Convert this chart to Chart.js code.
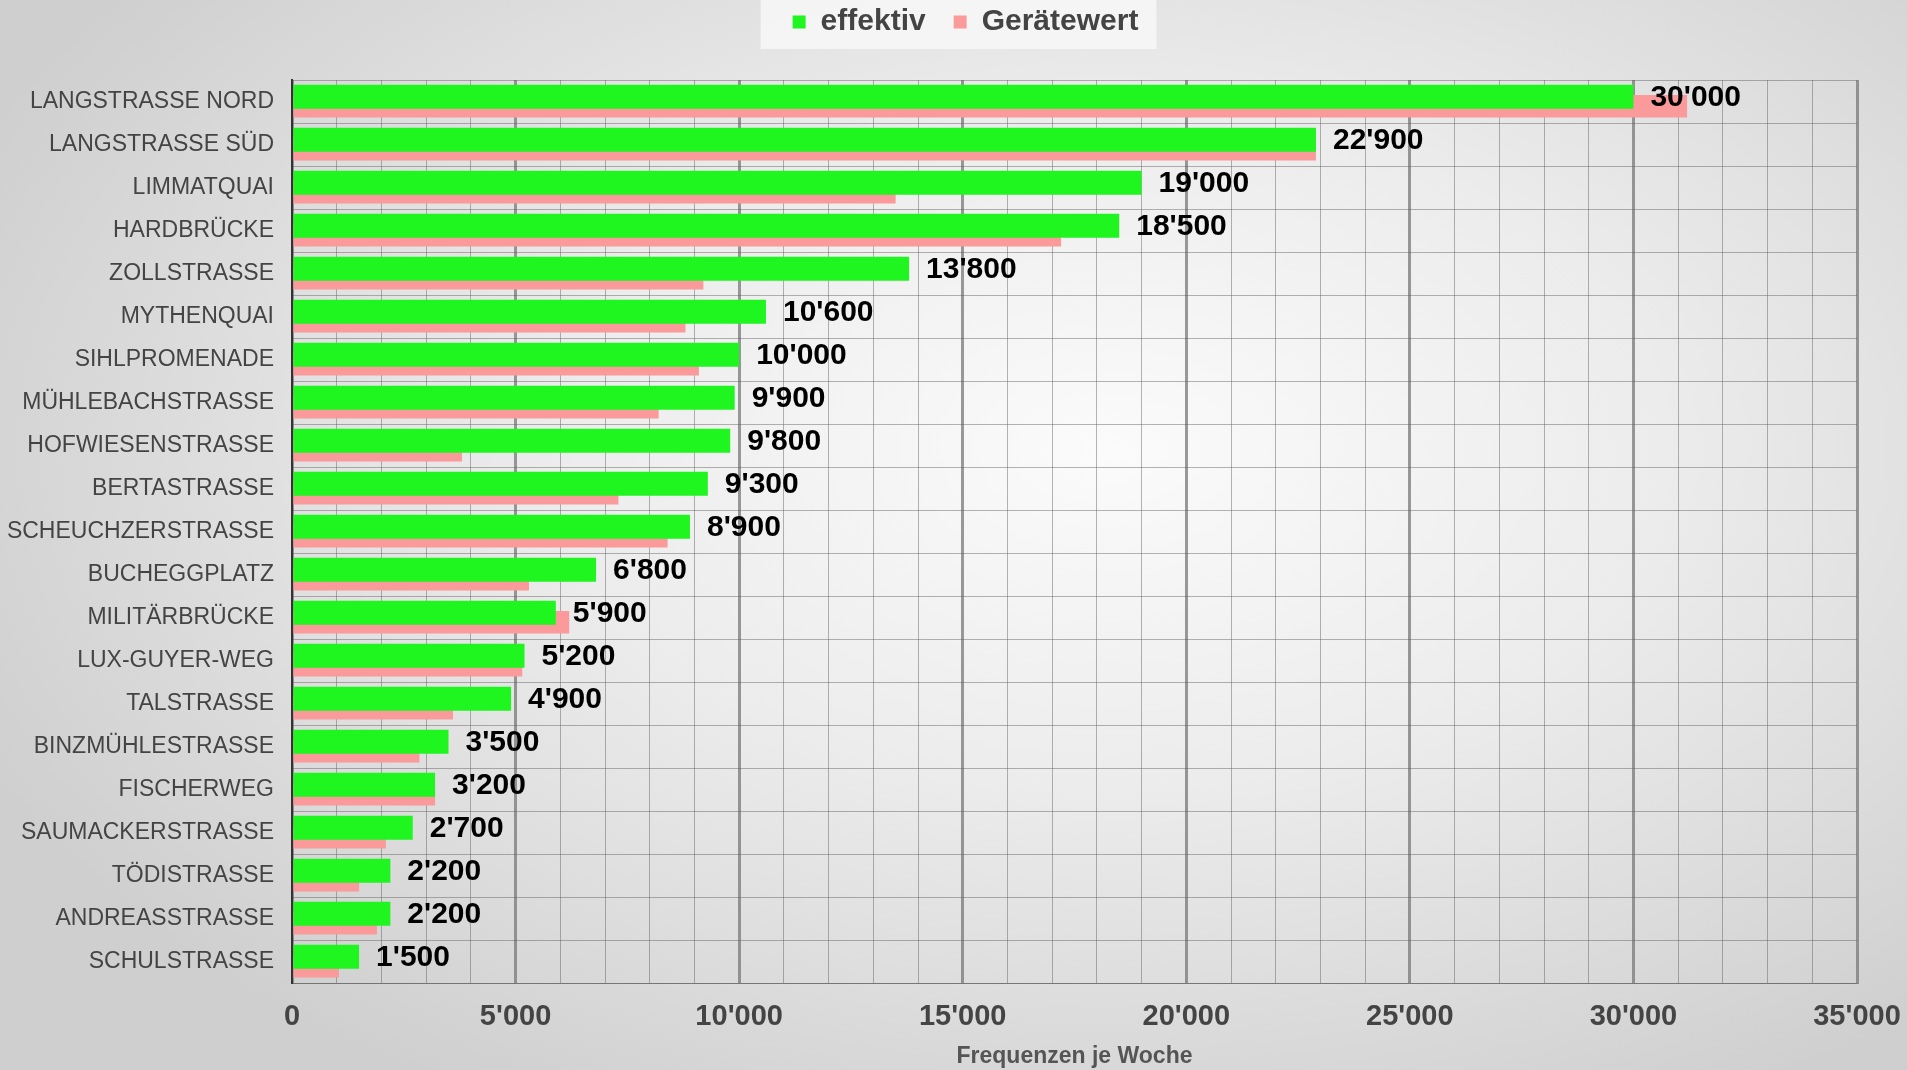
<!DOCTYPE html>
<html>
<head>
<meta charset="utf-8">
<script src="https://cdn.jsdelivr.net/npm/chart.js@4.4.1/dist/chart.umd.min.js"></script>
<style>
  html, body { margin: 0; padding: 0; overflow: hidden; }
  body {
    width: 1907px; height: 1070px;
    background: radial-gradient(ellipse 65% 70% at 58% 42%, #fbfbfb 0%, #ececec 45%, #cfcfcf 100%);
  }
  #wrap { position: relative; width: 1907px; height: 1070px; }
</style>
</head>
<body>
<div id="wrap"><canvas id="frequenzChart"></canvas></div>
<script>
// Standorte (von oben nach unten)
const standorte = [
  'LANGSTRASSE NORD', 'LANGSTRASSE SÜD', 'LIMMATQUAI', 'HARDBRÜCKE', 'ZOLLSTRASSE',
  'MYTHENQUAI', 'SIHLPROMENADE', 'MÜHLEBACHSTRASSE', 'HOFWIESENSTRASSE', 'BERTASTRASSE',
  'SCHEUCHZERSTRASSE', 'BUCHEGGPLATZ', 'MILITÄRBRÜCKE', 'LUX-GUYER-WEG', 'TALSTRASSE',
  'BINZMÜHLESTRASSE', 'FISCHERWEG', 'SAUMACKERSTRASSE', 'TÖDISTRASSE', 'ANDREASSTRASSE',
  'SCHULSTRASSE'
];

// Frequenzen je Woche
const effektiv = [
  30000, 22900, 19000, 18500, 13800, 10600, 10000, 9900, 9800, 9300,
  8900, 6800, 5900, 5200, 4900, 3500, 3200, 2700, 2200, 2200, 1500
];
const geraetewert = [
  31200, 22900, 13500, 17200, 9200, 8800, 9100, 8200, 3800, 7300,
  8400, 5300, 6200, 5150, 3600, 2850, 3200, 2100, 1500, 1900, 1050
];

// x-Achse
const xMin = 0;
const xMax = 35000;
const xStep = 1000;
const xLabelStep = 5000;

const fontFamily = '"Liberation Sans", Arial, sans-serif';

function formatCH(v) {
  return String(v).replace(/\B(?=(\d{3})+(?!\d))/g, "'");
}

// Legende: mehr Abstand nach unten, leicht nach rechts versetzt
const legendSpacing = {
  id: 'legendSpacing',
  beforeInit(chart) {
    const origFit = chart.legend.fit;
    chart.legend.fit = function () {
      origFit.call(this);
      this.height += 33;
    };
  },
  afterLayout(chart) {
    chart.legend.left += 12;
    chart.legend.right += 12;
  }
};

// Hintergrund hinter der Legende
const legendBackground = {
  id: 'legendBackground',
  beforeDraw(chart) {
    const boxes = chart.legend && chart.legend.legendHitBoxes;
    if (!boxes || !boxes.length) return;
    const left = Math.min(...boxes.map(b => b.left)) - 32;
    const right = Math.max(...boxes.map(b => b.left + b.width)) + 18;
    const ctx = chart.ctx;
    ctx.save();
    ctx.fillStyle = 'rgba(246,246,246,0.9)';
    ctx.fillRect(left, 0, right - left, 49);
    ctx.restore();
  }
};

// Werte neben den grünen Balken
const valueLabels = {
  id: 'valueLabels',
  afterDatasetsDraw(chart) {
    const meta = chart.getDatasetMeta(0);
    const ctx = chart.ctx;
    ctx.save();
    ctx.font = 'bold 30px ' + fontFamily;
    ctx.fillStyle = '#000';
    ctx.textAlign = 'left';
    ctx.textBaseline = 'middle';
    meta.data.forEach((bar, i) => {
      ctx.fillText(formatCH(effektiv[i]), bar.x + 17, bar.y + 1);
    });
    ctx.restore();
  }
};

const ctx = document.getElementById('frequenzChart').getContext('2d');
const frequenzChart = new Chart(ctx, {
  type: 'bar',
  data: {
    labels: standorte,
    datasets: [{
      label: 'effektiv',
      data: effektiv,
      backgroundColor: '#1ff51f',
      borderWidth: 0,
      categoryPercentage: 0.44,
      barPercentage: 2.55
    }, {
      label: 'Gerätewert',
      data: geraetewert,
      backgroundColor: '#fa9a9a',
      borderWidth: 0,
      categoryPercentage: 0.44,
      barPercentage: 2.4
    }]
  },
  options: {
    indexAxis: 'y',
    responsive: true,
    maintainAspectRatio: false,
    animation: false,
    layout: { padding: { top: -21, right: 0, left: 0, bottom: 0 } },
    plugins: {
      tooltip: { enabled: false },
      legend: {
        position: 'top',
        labels: {
          boxWidth: 13,
          boxHeight: 13,
          padding: 28,
          color: '#444',
          font: { family: fontFamily, size: 30, weight: 'bold' }
        }
      }
    },
    scales: {
      x: {
        min: xMin,
        max: xMax,
        afterFit: scale => {
          scale.height = 87;
          scale.paddingRight = 50;
        },
        ticks: {
          stepSize: xStep,
          autoSkip: false,
          maxRotation: 0,
          padding: 17,
          color: '#444',
          font: { family: fontFamily, size: 29, weight: 'bold' },
          callback: v => (v % xLabelStep === 0 ? formatCH(v) : '')
        },
        grid: {
          drawTicks: false,
          color: c => (c.tick && c.tick.value % xLabelStep === 0 ? 'rgba(120,120,120,0.75)' : 'rgba(90,90,90,0.45)'),
          lineWidth: c => (c.tick && c.tick.value % xLabelStep === 0 ? 3 : 1)
        },
        border: { display: true, color: 'rgba(90,90,90,0.6)', width: 1 },
        title: {
          display: true,
          text: 'Frequenzen je Woche',
          color: '#555',
          padding: { top: 9, bottom: 0 },
          font: { family: fontFamily, size: 23, weight: 'bold' }
        }
      },
      y: {
        afterFit: scale => { scale.width = 292; },
        ticks: {
          color: '#444',
          padding: 18,
          font: { family: fontFamily, size: 23 }
        },
        grid: {
          drawTicks: false,
          color: 'rgba(90,90,90,0.45)',
          lineWidth: 1
        },
        border: { display: true, color: '#333', width: 2 }
      }
    }
  },
  plugins: [legendSpacing, legendBackground, valueLabels]
});
</script>
</body>
</html>
